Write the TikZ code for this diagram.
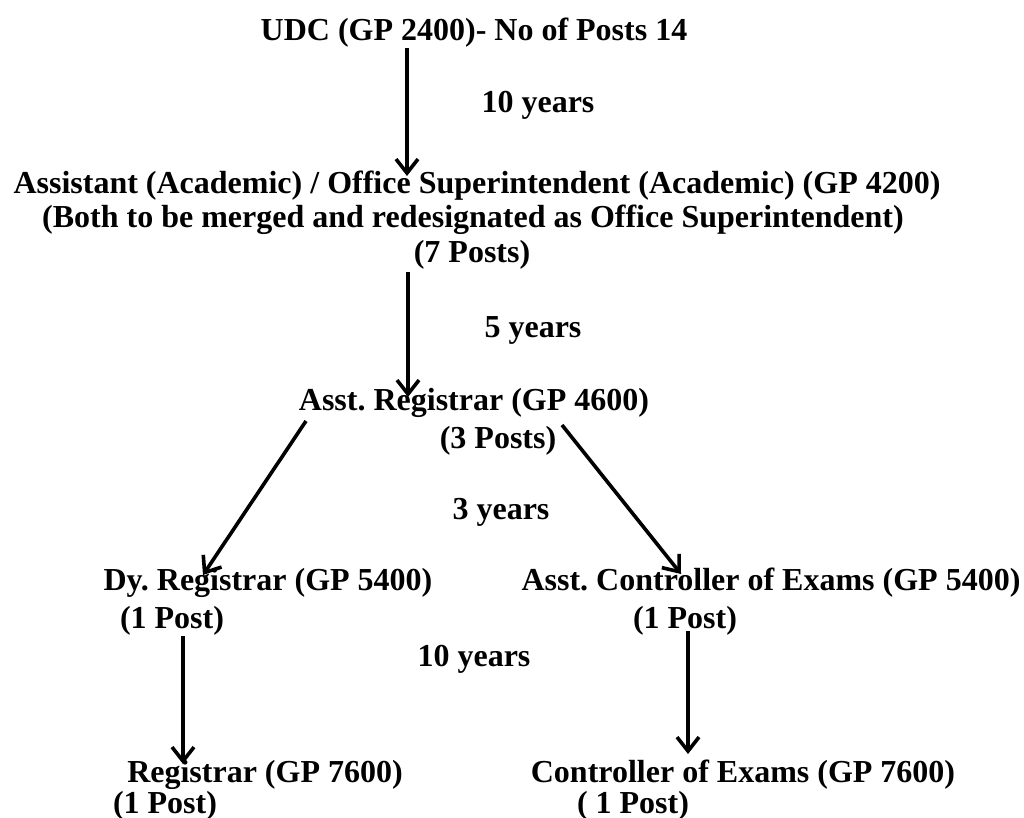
\documentclass[tikz,border=0pt]{standalone}
\usepackage{fontspec}
\setmainfont{Liberation Serif}
\usetikzlibrary{arrows.meta}
\tikzset{
  lbl/.style={anchor=base, inner sep=0pt, font=\fontsize{32}{34}\selectfont\bfseries\frenchspacing},
  arr/.style={line width=3.6pt, -{Straight Barb[length=14pt,width=22pt,line width=3.6pt]}}
}
\begin{document}
\begin{tikzpicture}[x=1pt,y=-1pt]
\useasboundingbox (0,0) rectangle (1024,818);
% nodes
\node[lbl] (udc) at (474,41) {UDC (GP 2400)- No of Posts 14};
\node[lbl] (y1) at (538,113) {10 years};
\node[lbl] (os1) at (477,194) {Assistant (Academic) / Office Superintendent (Academic) (GP 4200)};
\node[lbl] (os2) at (473,227) {(Both to be merged and redesignated as Office Superintendent)};
\node[lbl] (os3) at (472,262) {(7 Posts)};
\node[lbl] (y2) at (533,337) {5 years};
\node[lbl] (ar1) at (474,410) {Asst. Registrar (GP 4600)};
\node[lbl] (ar2) at (498,448) {(3 Posts)};
\node[lbl] (y3) at (501,519) {3 years};
\node[lbl] (dr1) at (268,590) {Dy. Registrar (GP 5400)};
\node[lbl] (dr2) at (172,628) {(1 Post)};
\node[lbl] (ac1) at (771,590) {Asst. Controller of Exams (GP 5400)};
\node[lbl] (ac2) at (685,628) {(1 Post)};
\node[lbl] (y4) at (474,666) {10 years};
\node[lbl] (rg1) at (265,782) {Registrar (GP 7600)};
\node[lbl] (rg2) at (165,813) {(1 Post)};
\node[lbl] (ce1) at (743,782) {Controller of Exams (GP 7600)};
\node[lbl] (ce2) at (633,813) {( 1 Post)};
% connector ends
\coordinate (a1s) at (407,48);  \coordinate (a1e) at (407,176);
\coordinate (a2s) at (408,272); \coordinate (a2e) at (408,397);
\coordinate (a3s) at (306,421); \coordinate (a3e) at (203,575);
\coordinate (a4s) at (562,425); \coordinate (a4e) at (681,574);
\coordinate (a5s) at (183,636); \coordinate (a5e) at (183,764);
\coordinate (a6s) at (688,631); \coordinate (a6e) at (688,754);
\draw[arr] (a1s) -- (a1e);
\draw[arr] (a2s) -- (a2e);
\draw[arr] (a3s) -- (a3e);
\draw[arr] (a4s) -- (a4e);
\draw[arr] (a5s) -- (a5e);
\draw[arr] (a6s) -- (a6e);
\end{tikzpicture}
\end{document}
